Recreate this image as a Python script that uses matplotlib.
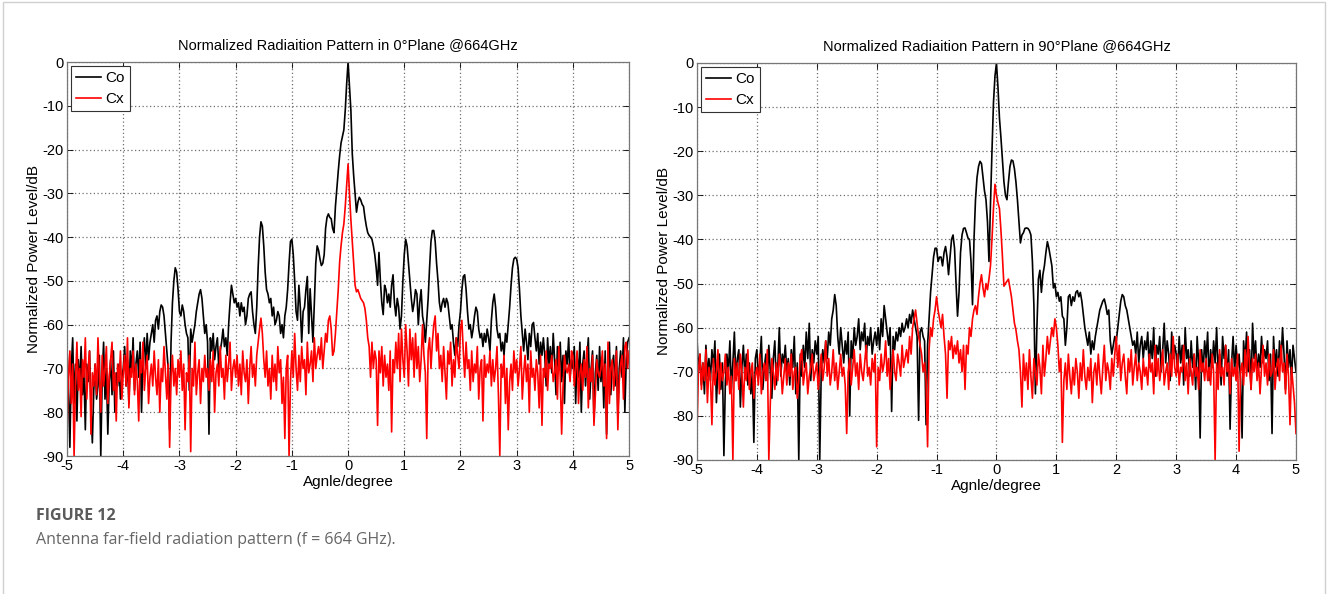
import numpy as np
import matplotlib
matplotlib.use("Agg")
import matplotlib.pyplot as plt
from matplotlib.patches import Rectangle

plt.rcParams['font.family'] = ['Liberation Sans', 'DejaVu Sans']
plt.rcParams['axes.unicode_minus'] = False

# valores, paso de 0.025 grados entre -5 y 5
co_0deg = [
    -66, -74, -88, -70, -63, -78, -69, -82, -68, -74, -65, -76, -71, -84, -69, -73, -66, -79, -87, -75,
    -69, -77, -74, -67, -90, -72, -64, -77, -70, -85, -73, -68, -76, -66, -80, -71, -74, -69, -77, -72,
    -70, -65, -74, -68, -78, -66, -71, -63, -75, -69, -66, -72, -64, -80, -67, -63, -70, -62, -68, -64,
    -62, -60, -64, -59, -58, -61, -57, -55.5, -56, -58, -62, -66, -70, -84, -64, -55, -50, -47, -48, -52,
    -57, -58, -55.5, -57, -60, -62, -63, -75, -61, -64, -62, -60, -57, -55, -53, -52, -54, -58, -62, -60,
    -64, -85, -63, -66, -62, -68, -65, -63, -70, -66, -64, -61, -65, -63, -67, -60, -55, -51, -53, -55,
    -54, -56, -55, -58, -55, -57, -56, -60, -58, -54, -53, -52.5, -57, -60, -62, -56, -47, -40, -36.5, -37.5,
    -42, -48, -52, -53, -55, -54, -58, -56, -60, -59, -57, -58, -62, -60, -63, -58, -56, -52, -46, -41,
    -40.5, -44, -50, -57, -59, -51, -56, -64, -57, -56, -52, -49, -62, -51.8, -58, -64, -55, -46, -42, -43,
    -45, -46.5, -46, -44, -38, -35.5, -34.7, -35.5, -35.8, -38, -39, -33, -29, -25, -21.4, -18.5, -17, -15.5, -11, -5,
    0, -5.5, -11, -21, -26, -30, -34.3, -32, -30.9, -31.5, -32.5, -33, -35.5, -37.5, -39, -39.6, -40, -40.5, -42, -44,
    -47, -51, -43.5, -50, -55, -57.7, -51, -52, -55, -53, -56, -51, -48.6, -55, -58, -54, -56, -61, -58, -50,
    -44, -40.5, -42, -46, -50, -54, -57, -55, -52, -53, -60, -55, -52, -58, -60, -64, -59, -54, -47, -41,
    -38.5, -38.5, -41, -46, -50, -55, -57, -55, -54, -56, -54, -55, -58, -61, -60, -64, -67, -63, -65, -60,
    -57, -52, -49, -48.6, -52, -57, -61, -60, -63, -61, -58, -56, -57, -61, -63, -62, -65, -62, -64, -61,
    -63, -66, -59, -55, -53, -56, -61, -63, -62, -66, -64, -67, -62, -64, -60, -56, -51, -47, -45, -44.6,
    -45, -47, -52, -58, -62, -66, -61, -64, -68, -62, -65, -60, -59.5, -63, -66, -62, -69, -64, -67, -63,
    -67, -74, -63, -69, -65, -71, -62, -68, -76, -65, -70, -64, -73, -67, -78, -66, -69, -63, -72, -68,
    -70, -65, -78, -67, -72, -64, -80, -69, -66, -74, -68, -63, -77, -70, -66, -82, -71, -67, -75, -65,
    -73, -68, -79, -66, -85, -71, -64, -76, -69, -67, -74, -65, -81, -70, -66, -72, -63, -80, -68, -64,
    -63,
]

cx_0deg = [
    -84, -72, -66, -78, -69, -90, -73, -64, -75, -70, -81, -68, -72, -63, -77, -70, -66, -85, -71, -74,
    -69, -76, -63, -72, -80, -67, -74, -70, -65, -78, -72, -68, -64, -75, -71, -82, -69, -73, -66, -77,
    -71, -67, -74, -63, -79, -70, -72, -66, -76, -69, -73, -82, -68, -71, -64, -75, -70, -67, -78, -72,
    -69, -74, -66, -72, -76, -68, -80, -70, -73, -65, -71, -77, -69, -88, -72, -67, -74, -70, -76, -68,
    -72, -66, -75, -69, -84, -71, -73, -67, -89, -70, -74, -64, -76, -71, -68, -78, -70, -73, -67, -72,
    -70, -75, -68, -73, -66, -80, -71, -69, -74, -65, -72, -70, -77, -67, -73, -69, -64, -75, -70, -68,
    -72, -67, -74, -69, -76, -66, -71, -73, -68, -78, -70, -65, -72, -69, -74, -67, -64, -61, -58.5, -62,
    -68, -72, -66, -74, -70, -77, -67, -73, -69, -75, -65, -71, -68, -78, -72, -86, -70, -67, -90, -73,
    -66, -72, -62, -70, -75, -67, -73, -65, -70, -68, -76, -64, -71, -69, -66, -73, -63, -70, -67, -65,
    -68, -63, -70, -66, -62, -64, -59, -58, -61, -67, -66, -62, -57, -52, -45.7, -42, -39, -37, -33, -28,
    -23.3, -30, -36, -41, -46, -51, -52.5, -52, -53, -54, -54.5, -55, -56.3, -59, -63, -65, -72, -64, -70, -66,
    -68, -83, -66, -71, -65, -74, -67, -72, -69, -75, -66, -84.5, -68, -71, -64, -70, -62, -73, -61, -68,
    -72, -60, -66, -74, -61, -68, -63, -72, -62, -70, -65, -73, -68, -60, -67, -71, -86, -66, -63, -70,
    -64, -60, -58, -66, -62, -70, -67, -73, -65, -71, -77, -66, -69, -64, -74, -68, -72, -63, -67, -70,
    -61, -59, -66, -72, -64, -70, -68, -75, -66, -73, -69, -71, -65, -77, -70, -68, -82, -67, -72, -69,
    -71, -66, -74, -68, -73, -70, -65, -76, -90, -69, -72, -67, -78, -70, -84, -73, -69, -75, -66, -71,
    -68, -74, -70, -65, -77, -71, -67, -73, -69, -80, -66, -72, -70, -75, -68, -71, -79, -67, -83, -70,
    -72, -66, -75, -69, -70, -67, -73, -71, -68, -77, -65, -72, -85, -74, -67, -70, -71, -69, -73, -66,
    -67, -74, -70, -66, -78, -71, -69, -75, -68, -72, -65, -79, -70, -73, -67, -83, -76, -68, -71, -72,
    -70, -66, -74, -69, -86, -64, -78, -70, -68, -75, -71, -66, -84, -73, -69, -67, -77, -65, -64, -70,
    -66,
]

co_90deg = [
    -62, -70, -66, -73, -68, -75, -64, -71, -67, -72, -65, -69, -63, -77, -70, -66, -74, -68, -89, -72,
    -66, -70, -63, -74, -68, -61, -72, -67, -65, -78, -69, -64, -71, -66, -73, -68, -75, -70, -86, -67,
    -65, -71, -68, -62, -74, -69, -66, -72, -64, -70, -76, -67, -63, -73, -69, -60, -71, -66, -68, -64,
    -70, -67, -73, -65, -69, -62, -75, -68, -90, -66, -71, -64, -69, -61, -67, -59, -72, -65, -68, -63,
    -66, -62, -90, -70, -65, -68, -63, -67, -61, -64, -58, -56, -52.5, -55, -62, -66, -60, -64, -68, -63,
    -66, -61, -80, -63, -67, -60, -64, -62, -58, -65, -61, -63, -59, -67, -62, -64, -60, -66, -63, -61,
    -64, -60, -65, -58, -62, -55, -58, -61, -64, -60, -79, -62, -65, -61, -63, -60, -62, -59, -61, -60,
    -58, -60, -57, -59, -56, -58, -60, -62, -81, -61, -60, -62, -63, -82, -64, -58, -52, -48, -44, -42,
    -42, -45, -44, -44, -46, -43, -41.6, -44, -48, -44, -40, -39, -42, -50, -57.4, -52, -43, -39, -37.5, -37.4,
    -38.5, -39.7, -40, -45, -54.8, -40, -31, -26, -23.5, -22.3, -22.8, -26, -29, -31, -36, -45, -32, -20, -9, -3,
    0, -5.5, -12.5, -17, -22, -27, -30, -31, -27, -23.5, -22, -22.2, -24, -27, -31, -36, -40.8, -39, -38.5, -37.5,
    -37.4, -37.5, -38, -39, -45, -55, -75, -60, -49, -47, -52, -48, -46, -43, -40.5, -42, -44, -46, -51, -50,
    -53, -52, -54, -53, -57.4, -58, -64, -60, -53, -52.5, -55, -53, -54, -52, -51.6, -53, -52, -54, -57, -60,
    -62, -64, -61, -66, -63, -65, -62, -60, -58, -56, -55, -54, -53.5, -55, -57, -56, -63, -66, -64, -62,
    -63, -60, -57, -54, -52.5, -53, -55, -56, -58, -60, -62, -64, -63, -66, -61, -68, -64, -62, -67, -63,
    -65, -61, -69, -63, -67, -60, -71, -64, -66, -62, -70, -65, -59, -68, -63, -66, -72, -61, -67, -64,
    -66, -70, -62, -68, -64, -73, -60, -67, -65, -71, -63, -69, -66, -74, -62, -68, -85, -65, -70, -63,
    -67, -61, -72, -65, -69, -63, -68, -60, -70, -66, -73, -62, -67, -64, -71, -65, -83, -68, -62, -70,
    -64, -69, -66, -72, -85, -63, -68, -61, -70, -65, -74, -59, -67, -63, -71, -66, -69, -62, -68, -65,
    -67, -63, -72, -66, -84, -62, -69, -65, -71, -63, -68, -60, -66, -74, -63, -69, -65, -72, -64, -67,
    -70,
]

cx_90deg = [
    -84, -70, -66, -74, -68, -72, -65, -77, -69, -71, -82, -67, -73, -70, -65, -75, -68, -72, -70, -66,
    -73, -69, -75, -71, -90, -67, -72, -68, -74, -66, -70, -78, -69, -72, -65, -74, -70, -68, -76, -71,
    -69, -73, -66, -75, -70, -68, -72, -65, -90, -77, -67, -70, -74, -68, -72, -66, -69, -75, -71, -67,
    -73, -68, -71, -66, -74, -70, -69, -76, -72, -67, -65, -73, -70, -68, -75, -71, -69, -66, -72, -70,
    -68, -74, -70, -66, -72, -69, -63, -71, -67, -73, -70, -65, -72, -68, -74, -70, -66, -71, -69, -73,
    -84, -70, -67, -73, -69, -65, -71, -68, -74, -66, -70, -72, -68, -64, -71, -69, -73, -67, -70, -66,
    -87, -69, -72, -66, -70, -68, -63, -71, -67, -74, -69, -65, -70, -72, -66, -68, -71, -64, -69, -67,
    -65, -68, -62, -66, -60, -58, -56, -59, -62, -64, -66, -70, -68, -72, -87, -65, -60, -62, -58, -56,
    -53, -56, -58, -60, -57, -62, -66, -76, -63, -65, -62, -67, -64, -66, -63, -68, -65, -70, -64, -74,
    -64, -66, -60, -62, -58, -56, -55, -57, -53, -50, -48, -51, -53, -50, -51.4, -49, -46, -40, -33, -27.5,
    -30, -31.7, -33, -38, -44, -50.6, -50, -49.5, -49, -51, -53, -56, -59, -60.5, -63, -65, -70, -78, -66, -72,
    -68, -74, -65, -71, -76, -67, -70, -73, -66, -69, -75, -64, -71, -67, -62, -66, -63, -60, -62, -58,
    -60, -64, -70, -67, -86, -72, -68, -74, -66, -71, -75, -69, -73, -67, -70, -76, -68, -72, -65, -71,
    -74, -69, -72, -67, -77, -70, -68, -73, -66, -71, -75, -69, -64, -72, -68, -70, -74, -67, -71, -66,
    -62, -69, -64, -72, -68, -66, -71, -75, -67, -70, -65, -73, -69, -66, -72, -68, -70, -74, -67, -71,
    -69, -73, -66, -70, -68, -75, -64, -71, -67, -72, -69, -65, -73, -70, -68, -74, -66, -71, -62, -69,
    -71, -66, -73, -69, -70, -64, -72, -68, -75, -67, -70, -73, -66, -71, -69, -74, -65, -70, -68, -72,
    -67, -72, -69, -73, -66, -70, -90, -68, -74, -65, -71, -69, -73, -64, -70, -68, -75, -67, -71, -69,
    -72, -66, -88, -70, -68, -73, -65, -71, -62, -69, -74, -67, -70, -66, -72, -68, -75, -69, -64, -71,
    -68, -73, -66, -71, -70, -65, -74, -69, -67, -72, -64, -70, -68, -75, -66, -71, -82, -69, -73, -77,
    -84,
]

angle = np.linspace(-5, 5, len(co_0deg))

titles = ["Normalized Radiaition Pattern in 0\u00b0Plane @664GHz",
          "Normalized Radiaition Pattern in 90\u00b0Plane @664GHz"]
xticks = [-5, -4, -3, -2, -1, 0, 1, 2, 3, 4, 5]
yticks = [0, -10, -20, -30, -40, -50, -60, -70, -80, -90]

fig = plt.figure(figsize=(13.28, 5.94), dpi=100)

axes_pos = [[0.0505, 0.2323, 0.4232, 0.6633],
            [0.5248, 0.2256, 0.4511, 0.6684]]
ylabel_x = [-0.047, -0.044]
datos = [(co_0deg, cx_0deg), (co_90deg, cx_90deg)]

for pos, (co, cx), titulo, lx in zip(axes_pos, datos, titles, ylabel_x):
    ax = fig.add_axes(pos)
    ax.plot(angle, co, color='black', linewidth=1.2, label='Co')
    ax.plot(angle, cx, color='#ff0000', linewidth=1.2, label='Cx')
    ax.set_xlim(-5, 5)
    ax.set_ylim(-90, 0)
    ax.set_xticks(xticks)
    ax.set_yticks(yticks)
    ax.tick_params(direction='in', labelsize=10.5, length=4, width=0.6, top=True, right=True,
                   pad=2.5)
    ax.grid(True, color='#6f6f6f', linestyle=(0, (1, 2)), linewidth=0.9)
    for s in ax.spines.values():
        s.set_color('#777777')
        s.set_linewidth(0.9)
    ax.set_title(titulo, fontsize=10.5, pad=9)
    ax.set_xlabel('Agnle/degree', fontsize=11, labelpad=1)
    ax.set_ylabel('Normalized Power Level/dB', fontsize=11)
    ax.yaxis.set_label_coords(lx, 0.5)
    leg = ax.legend(loc='upper left', fontsize=11, fancybox=False, framealpha=1,
                    edgecolor='#333333', handlelength=1.6, handletextpad=0.3,
                    borderaxespad=0.25, borderpad=0.35, labelspacing=0.45)
    leg.get_frame().set_linewidth(0.8)

fig.text(0.027, 0.124, 'FIGURE 12', fontsize=11.5, fontweight='bold', color='#5a5a5a',
         family=['Open Sans', 'DejaVu Sans'])
fig.text(0.027, 0.085, 'Antenna far-field radiation pattern (f = 664 GHz).', fontsize=11.5,
         color='#666666', family=['Open Sans', 'DejaVu Sans'])

fig.patches.append(Rectangle((0.002, -0.01), 0.996, 1.007, transform=fig.transFigure,
                             fill=False, edgecolor='#d0d0d0', linewidth=1))

fig.savefig('out.png', dpi=100)
